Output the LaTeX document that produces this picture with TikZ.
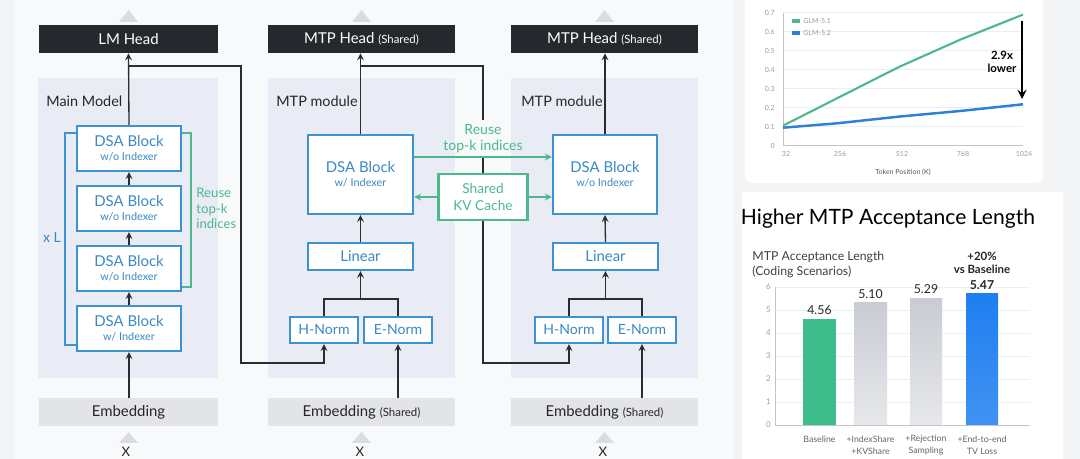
\documentclass[tikz,border=0pt]{standalone}
\usepackage{fontspec}
\setmainfont{Lato}
\usepackage{tikz}
\usetikzlibrary{positioning}
\usetikzlibrary{arrows}

\definecolor{pagebg}{HTML}{F3F4F6}
\definecolor{leftbg}{HTML}{F8F9FA}
\definecolor{panelbg}{HTML}{E9ECF4}
\definecolor{headblk}{HTML}{25282D}
\definecolor{embgray}{HTML}{E2E4E8}
\definecolor{dsablue}{HTML}{3D92D2}
\definecolor{dsatext}{HTML}{3A89C4}
\definecolor{kvgreen}{HTML}{4DB88C}
\definecolor{trigray}{HTML}{DADCE0}
\definecolor{linkblk}{HTML}{2A2C30}
\definecolor{axisgray}{HTML}{9A9DA3}
\definecolor{gridgray}{HTML}{EDEEF0}
\definecolor{glmblue}{HTML}{2C80D6}
\definecolor{bargreen}{HTML}{3DBD8C}
\definecolor{bargray}{HTML}{C9CCD3}
\definecolor{barblue}{HTML}{1F7FF0}

\newlength{\pxu}
\setlength{\pxu}{0.02cm}

\begin{document}
\begin{tikzpicture}[x = 0.02cm, y = -0.02cm,
  headbox/.style = {fill = headblk, text = white, inner sep = 0pt, minimum height = 28\pxu, font = \fontsize{8.5}{10}\selectfont},
  embbox/.style = {fill = embgray, text = black!85, inner sep = 0pt, minimum height = 28\pxu, font = \fontsize{8.5}{10}\selectfont},
  panel/.style = {fill = panelbg, inner sep = 0pt, minimum height = 300\pxu},
  dsabox/.style = {draw = dsablue, line width = 1.2pt, fill = white, text = dsatext, inner sep = 0pt, align = center, font = \fontsize{8.5}{10}\selectfont},
  kvbox/.style = {draw = kvgreen, line width = 1.2pt, fill = white, text = kvgreen, inner sep = 0pt, align = center, font = \fontsize{7.8}{9.4}\selectfont},
  link/.style = {draw = linkblk, line width = 0.75pt},
  uparrow/.style = {link, ->, >=stealth},
  reusearrow/.style = {draw = kvgreen, line width = 0.8pt, ->, >=stealth},
  mlabel/.style = {anchor = west, inner sep = 0pt, text = black!85, font = \fontsize{8.2}{10}\selectfont},
  xin/.style = {anchor = north, inner sep = 0pt, text = black!85, font = \fontsize{7.5}{9}\selectfont},
  ticklbl/.style = {text = axisgray, inner sep = 0pt, font = \fontsize{4}{5}\selectfont},
  barlbl/.style = {text = black!60, inner sep = 0pt, align = center, font = \fontsize{5}{6.8}\selectfont},
  vallbl/.style = {text = black!85, inner sep = 0pt, align = center, font = \fontsize{7}{8}\selectfont}]
\useasboundingbox (0,0) rectangle (1080,459);
\clip (0,0) rectangle (1080,459);
\fill[pagebg] (0,0) rectangle (1080,459);
\fill[leftbg] (15,-5) rectangle (733,465);

% main model
\node[panel, minimum width = 180\pxu] (pmain) at (128,228) {};
\node[mlabel] (tmain) at (46,101) {Main Model};
\node[headbox, minimum width = 179\pxu] (lmhead) at (128.5,39) {LM Head};
\node[embbox, minimum width = 179\pxu] (emb1) at (128.5,412) {Embedding};
\fill[trigray] (119,22) -- (138,22) -- (128.5,10) -- cycle;
\fill[trigray] (119,443) -- (138,443) -- (128.5,432) -- cycle;
\node[xin] (x1) at (126,447) {X};
\draw[dsablue, line width = 0.9pt] (77,133) -- (65,133) -- (65,345) -- (77,345);
\draw[kvgreen, line width = 0.9pt] (182,133) -- (191,133) -- (191,287) -- (182,287);
\node[text = dsatext, inner sep = 0pt, font = \fontsize{8}{10}\selectfont] (xl) at (52,237) {x L};
\node[anchor = west, align = left, text = kvgreen, inner sep = 0pt, font = \fontsize{7.5}{8.8}\selectfont] (reuse1) at (196,208.5) {Reuse\\top-k\\indices};
\node[dsabox, minimum width = 104\pxu, minimum height = 45\pxu] (b1) at (129,148.5) {DSA Block\\[-2pt]{\fontsize{6.2}{7}\selectfont w/o Indexer}};
\node[dsabox, minimum width = 104\pxu, minimum height = 45\pxu] (b2) at (129,208.5) {DSA Block\\[-2pt]{\fontsize{6.2}{7}\selectfont w/o Indexer}};
\node[dsabox, minimum width = 104\pxu, minimum height = 45\pxu] (b3) at (129,268.5) {DSA Block\\[-2pt]{\fontsize{6.2}{7}\selectfont w/o Indexer}};
\node[dsabox, minimum width = 104\pxu, minimum height = 45\pxu] (b4) at (129,328.5) {DSA Block\\[-2pt]{\fontsize{6.2}{7}\selectfont w/ Indexer}};

% first mtp module
\node[panel, minimum width = 187\pxu] (pmtp1) at (361.5,228) {};
\node[mlabel] (tmtp1) at (276,101) {MTP module};
\node[headbox, minimum width = 187\pxu] (head2) at (361.5,39) {MTP Head {\fontsize{6.5}{7}\selectfont(Shared)}};
\node[embbox, minimum width = 187\pxu] (emb2) at (361.5,412) {Embedding {\fontsize{6.5}{7}\selectfont(Shared)}};
\fill[trigray] (352,22) -- (371,22) -- (361.5,10) -- cycle;
\fill[trigray] (352,443) -- (371,443) -- (361.5,432) -- cycle;
\node[xin] (x2) at (360,447) {X};
\node[dsabox, minimum width = 105\pxu, minimum height = 79\pxu] (dsa2) at (360.5,174.5) {DSA Block\\[-2pt]{\fontsize{6.2}{7}\selectfont w/ Indexer}};
\node[dsabox, minimum width = 105\pxu, minimum height = 27\pxu] (lin2) at (360.5,256.5) {Linear};
\node[dsabox, minimum width = 68\pxu, minimum height = 26\pxu, font = \fontsize{8}{10}\selectfont] (hn2) at (324,330) {H-Norm};
\node[dsabox, minimum width = 68\pxu, minimum height = 26\pxu, font = \fontsize{8}{10}\selectfont] (en2) at (398,330) {E-Norm};

% second mtp module
\node[panel, minimum width = 187\pxu] (pmtp2) at (604.5,228) {};
\node[mlabel] (tmtp2) at (521,101) {MTP module};
\node[headbox, minimum width = 187\pxu] (head3) at (604.5,39) {MTP Head {\fontsize{6.5}{7}\selectfont(Shared)}};
\node[embbox, minimum width = 187\pxu] (emb3) at (604.5,412) {Embedding {\fontsize{6.5}{7}\selectfont(Shared)}};
\fill[trigray] (595,22) -- (614,22) -- (604.5,10) -- cycle;
\fill[trigray] (595,443) -- (614,443) -- (604.5,432) -- cycle;
\node[xin] (x3) at (603,447) {X};
\node[dsabox, minimum width = 104\pxu, minimum height = 79\pxu] (dsa3) at (605,174.5) {DSA Block\\[-2pt]{\fontsize{6.2}{7}\selectfont w/o Indexer}};
\node[dsabox, minimum width = 105\pxu, minimum height = 27\pxu] (lin3) at (605.5,256.5) {Linear};
\node[dsabox, minimum width = 68\pxu, minimum height = 26\pxu, font = \fontsize{8}{10}\selectfont] (hn3) at (569,330) {H-Norm};
\node[dsabox, minimum width = 68\pxu, minimum height = 26\pxu, font = \fontsize{8}{10}\selectfont] (en3) at (642,330) {E-Norm};

% wiring
\draw[uparrow] (b1.north) -- (lmhead.south);
\draw[uparrow] (b2.north) -- (b1.south);
\draw[uparrow] (b3.north) -- (b2.south);
\draw[uparrow] (b4.north) -- (b3.south);
\draw[uparrow] (b4.south |- emb1.north) -- (b4.south);
\coordinate (tap1) at (129,66);
\draw[uparrow] (tap1) -- (241,66) -- (241,363) -| (hn2.south);

\draw[link] (hn2.north) |- (en2.north |- 0,299) -- (en2.north);
\draw[uparrow] (lin2.south |- 0,299) -- (lin2.south);
\draw[uparrow] (lin2.north) -- (dsa2.south);
\draw[uparrow] (dsa2.north) -- (dsa2.north |- head2.south);
\draw[uparrow] (en2.south |- emb2.north) -- (en2.south);

\draw[link] (hn3.north) |- (en3.north |- 0,299) -- (en3.north);
\draw[uparrow] (lin3.south |- 0,299) -- (lin3.south);
\draw[uparrow] (lin3.north) -- (dsa3.south);
\draw[uparrow] (dsa3.north) -- (dsa3.north |- head3.south);
\draw[uparrow] (en3.south |- emb3.north) -- (en3.south);

\node[text = kvgreen, align = center, inner sep = 2pt, font = \fontsize{8}{9}\selectfont] (reuse2) at (483,138.5) {Reuse\\top-k indices};
\coordinate (tap2) at (360.5,66);
\draw[link] (tap2) -- (reuse2.north |- tap2) -- (reuse2.north);
\draw[uparrow] (reuse2.south) -- (483,363) -| (hn3.south);
\node[kvbox, minimum width = 89\pxu, minimum height = 46\pxu] (kv) at (483,197) {Shared\\KV Cache};
\draw[reusearrow] (dsa2.east |- 0,157) -- (dsa3.west |- 0,157);
\draw[reusearrow] (kv.west) -- (kv.west -| dsa2.east);
\draw[reusearrow] (kv.east) -- (kv.east -| dsa3.west);

% line chart
\fill[white, rounded corners = 4pt] (745,-10) rectangle (1043,183);
\foreach \v in {1,...,7}
  \draw[gridgray, line width = 0.4pt] (783,{145.7-19*\v}) -- (1023,{145.7-19*\v});
\draw[axisgray!60, line width = 0.5pt] (783,13) -- (783,145.7) -- (1023,145.7);
\foreach \v/\t in {0/0,1/0.1,2/0.2,3/0.3,4/0.4,5/0.5,6/0.6,7/0.7}
  \node[ticklbl, anchor = east] at (775,{145.7-19*\v}) {\t};
\foreach \k/\x in {32/786,256/840,512/902,768/963,1024/1024}
  \node[ticklbl] at (\x,154) {\k};
\node[ticklbl, text = black!65] (tokpos) at (903,172) {Token Position (K)};
\draw[kvgreen, line width = 1.2pt] (783,125.7) -- (837.2,98.2) -- (899.1,66.9) -- (961.1,39.3) -- (1023,14.6);
\draw[glmblue, line width = 1.4pt] (783,127.7) -- (837.2,123.3) -- (899.1,116.6) -- (961.1,110.9) -- (1023,104.3);
\draw[kvgreen, line width = 2.5pt] (792,21) -- (800,21);
\node[ticklbl, anchor = west] (leg1) at (803,21) {GLM-5.1};
\draw[glmblue, line width = 2.5pt] (792,33) -- (800,33);
\node[ticklbl, anchor = west] (leg2) at (803,33) {GLM-5.2};
\draw[-stealth, line width = 1.3pt] (1022,21) -- (1022,99);
\node[align = center, inner sep = 0pt, font = \bfseries\fontsize{6.5}{7.5}\selectfont] (lower) at (1002,62) {2.9x\\lower};

% bar chart
\fill[white] (742,192) rectangle (1063,470);
\node[inner sep = 0pt, font = \fontsize{12}{14}\selectfont] (title) at (888,219) {Higher MTP Acceptance Length};
\node[anchor = west, align = left, inner sep = 0pt, text = black!75, font = \fontsize{7}{8.5}\selectfont] (subt) at (752,264.5) {MTP Acceptance Length\\(Coding Scenarios)};
\foreach \v in {1,...,6}
  \draw[gridgray, line width = 0.4pt] (775,{425-23*\v}) -- (1030,{425-23*\v});
\draw[axisgray!60, line width = 0.5pt] (775,287) -- (775,425) -- (1030,425);
\foreach \v in {0,...,6}
  \node[ticklbl, anchor = east, font = \fontsize{4.5}{5}\selectfont] at (771,{425-23*\v}) {\v};
\fill[bargreen] (803,319) rectangle (836,425);
\shade[top color = bargray, bottom color = bargray!45] (854,303) rectangle (887,425);
\shade[top color = bargray, bottom color = bargray!45] (910,299) rectangle (942,425);
\shade[top color = barblue, bottom color = barblue!85!white] (966,294) rectangle (998,425);
\node[vallbl] (v1) at (819.5,310) {4.56};
\node[vallbl] (v2) at (870.5,294) {5.10};
\node[vallbl] (v3) at (926,289) {5.29};
\node[vallbl, font = \bfseries\fontsize{7}{8}\selectfont] (v4) at (982,285) {5.47};
\node[vallbl, font = \bfseries\fontsize{6.5}{7}\selectfont] (gain) at (982,263) {+20\%\\vs Baseline};
\node[barlbl] (l1) at (819.5,439) {Baseline};
\node[barlbl] (l2) at (870.5,445) {+IndexShare\\+KVShare};
\node[barlbl] (l3) at (926,445) {+Rejection\\Sampling};
\node[barlbl] (l4) at (982,445) {+End-to-end\\TV Loss};
\end{tikzpicture}
\end{document}
